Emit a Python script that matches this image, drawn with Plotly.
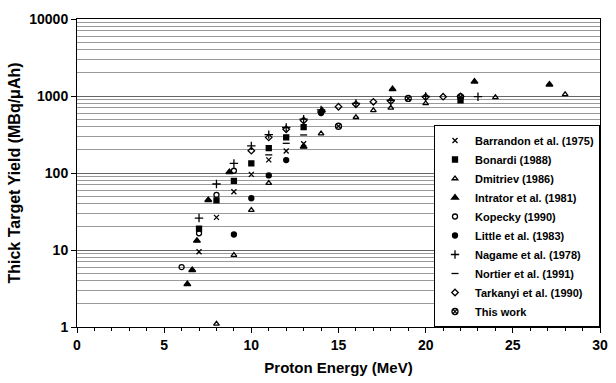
import plotly.graph_objects as go

# Data (Proton energy MeV, thick target yield MBq/uAh)
barrandon_E = [7, 8, 9, 10, 11, 12, 13]
barrandon_Y = [9.5, 26.5, 57, 96, 148, 193, 240]

bonardi_E = [7, 8, 9, 10, 11, 12, 13, 22]
bonardi_Y = [19, 44, 79, 133, 210, 290, 395, 880]

dmitriev_E = [8, 9, 10, 11, 14, 16, 17, 18, 20, 24, 28]
dmitriev_Y = [1.1, 8.6, 33, 74, 325, 530, 650, 700, 800, 960, 1050]

intrator_E = [6.33, 6.61, 6.88, 7.53, 8.74, 13.0, 14.05, 18.1, 22.8, 27.1]
intrator_Y = [3.6, 5.5, 13.2, 44.6, 103, 220, 650, 1230, 1540, 1410]

kopecky_E = [6, 7, 8, 9]
kopecky_Y = [6.0, 16.5, 52, 107]

little_E = [9, 10, 11, 12, 14]
little_Y = [15.9, 47, 93, 147, 600]

nagame_E = [7, 8, 9, 10, 11, 12, 13, 14, 16, 18, 20, 23]
nagame_Y = [26, 72, 133, 225, 315, 390, 500, 660, 800, 880, 990, 980]

nortier_E = [11, 12, 13]
nortier_Y = [172, 243, 312]

tarkanyi_E = [10, 11, 12, 13, 14, 15, 16, 17, 18, 20, 21, 22]
tarkanyi_Y = [195, 290, 370, 480, 620, 725, 780, 840, 860, 970, 980, 990]

thiswork_E = [15, 19, 22]
thiswork_Y = [405, 930, 975]

series = [
    ("Barrandon et al. (1975)", barrandon_E, barrandon_Y, "x-thin-open", 5),
    ("Bonardi (1988)", bonardi_E, bonardi_Y, "square", 5),
    ("Dmitriev (1986)", dmitriev_E, dmitriev_Y, "triangle-up-open", 5),
    ("Intrator et al. (1981)", intrator_E, intrator_Y, "triangle-up", 6),
    ("Kopecky (1990)", kopecky_E, kopecky_Y, "circle-open", 5),
    ("Little et al. (1983)", little_E, little_Y, "circle", 5),
    ("Nagame et al. (1978)", nagame_E, nagame_Y, "cross-thin-open", 6),
    ("Nortier et al. (1991)", nortier_E, nortier_Y, "line-ew-open", 5),
    ("Tarkanyi et al. (1990)", tarkanyi_E, tarkanyi_Y, "diamond-open", 5),
    ("This work", thiswork_E, thiswork_Y, "circle-x-open", 6),
]

fig = go.Figure()
for name, xs, ys, sym, sz in series:
    fig.add_trace(go.Scatter(
        x=xs, y=ys, mode="markers", name="<b>" + name + "</b>",
        marker=dict(symbol=sym, size=sz, color="black",
                    line=dict(color="black", width=1.3)),
    ))

font = "Liberation Sans, Arial, sans-serif"
fig.update_layout(
    width=616, height=383,
    margin=dict(l=77, r=8, t=19, b=56),
    paper_bgcolor="white", plot_bgcolor="white",
    font=dict(family=font, color="black", size=12),
    showlegend=True,
    legend=dict(
        x=1, xanchor="right", y=0, yanchor="bottom",
        bgcolor="white", bordercolor="black", borderwidth=1,
        font=dict(family=font, size=11, color="black"),
        tracegroupgap=0, itemwidth=30,
    ),
    xaxis=dict(
        range=[0, 30], tickmode="array", tickvals=[0, 5, 10, 15, 20, 25, 30],
        ticktext=["<b>0</b>", "<b>5</b>", "<b>10</b>", "<b>15</b>", "<b>20</b>", "<b>25</b>", "<b>30</b>"],
        ticks="outside", ticklen=5, tickcolor="black",
        minor=dict(dtick=1, ticks="outside", ticklen=3, tickcolor="black", showgrid=False),
        showline=True, linecolor="black", linewidth=1, mirror=True,
        showgrid=False, zeroline=False,
        title=dict(text="<b>Proton Energy (MeV)</b>", font=dict(size=15), standoff=10),
        tickfont=dict(size=14),
    ),
    yaxis=dict(
        type="log", range=[0, 4],
        tickmode="array", tickvals=[1, 10, 100, 1000, 10000],
        ticktext=["<b>1</b>", "<b>10</b>", "<b>100</b>", "<b>1000</b>", "<b>10000</b>"],
        ticks="outside", ticklen=5, tickcolor="black",
        showline=True, linecolor="black", linewidth=1, mirror=True,
        showgrid=True, gridcolor="#666", gridwidth=1,
        minor=dict(dtick="D1", showgrid=True, gridcolor="#999", gridwidth=1, ticks=""),
        zeroline=False,
        title=dict(text="<b>Thick Target Yield (MBq/μAh)</b>", font=dict(size=16), standoff=4),
        tickfont=dict(size=14),
    ),
)

fig.write_html("out.html")
